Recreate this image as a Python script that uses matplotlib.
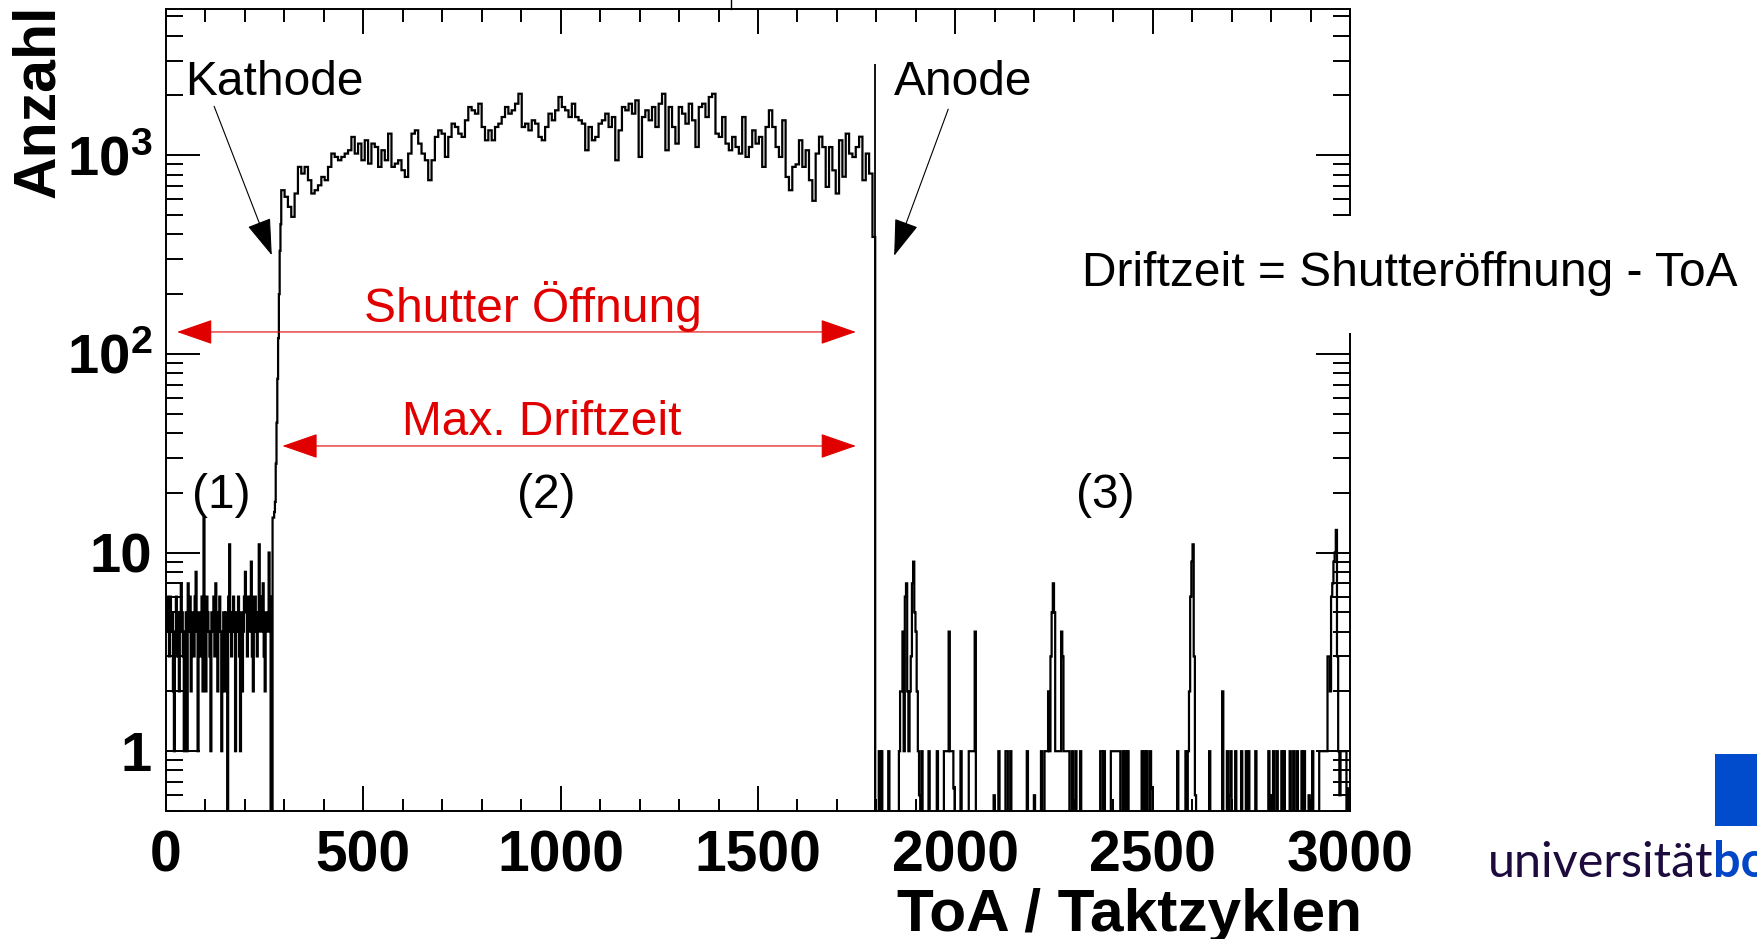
import numpy as np
import matplotlib
matplotlib.use("Agg")
import matplotlib.pyplot as plt
from matplotlib.patches import Rectangle
from matplotlib.lines import Line2D
from matplotlib.ticker import (MultipleLocator, LogLocator, FixedLocator,
                               FixedFormatter, NullFormatter)

plt.rcParams['font.family'] = ['Liberation Sans', 'DejaVu Sans']
plt.rcParams['font.weight'] = 'bold'
plt.rcParams['mathtext.fontset'] = 'custom'
plt.rcParams['mathtext.rm'] = 'Liberation Sans'
plt.rcParams['mathtext.bf'] = 'Liberation Sans:bold'

# region (1): noise before the cathode edge, 2.5 cycle bins from 0 to 270
noise_width = 2.5
noise_counts = [4, 6, 5, 3, 6, 4, 5, 2, 1, 4,
                6, 3, 5, 2, 4, 7, 5, 3, 1, 4,
                5, 1, 7, 4, 6, 2, 4, 5, 3, 6,
                8, 4, 1, 5, 4, 3, 6, 2, 15, 5,
                2, 6, 5, 4, 3, 1, 5, 4, 6, 3,
                7, 4, 2, 5, 6, 4, 1, 3, 5, 2,
                5, 4, 0, 6, 11, 4, 3, 5, 6, 4,
                1, 5, 4, 6, 3, 1, 5, 2, 4, 6,
                8, 5, 3, 6, 5, 4, 9, 3, 2, 6,
                6, 4, 3, 5, 11, 4, 4, 6, 7, 3,
                2, 5, 5, 4, 10, 6, 0, 0]
# cathode edge, 2 cycle bins from 270 to 292
rise_start = 270
rise_width = 2
rise_counts = [15, 15, 16, 18, 28, 45, 75, 120, 200, 330, 450]
body_start, body_end = 292, 1790
body_counts = [
    667, 618, 550, 490, 642, 874, 809, 874, 749, 642,
    667, 706, 778, 749, 874, 1020, 981, 944, 981, 1020,
    1060, 1237, 1020, 1145, 944, 1190, 908, 1145, 1101, 874,
    1060, 944, 1285, 874, 908, 944, 841, 778, 1020, 1285,
    1335, 1145, 1020, 944, 749, 944, 1237, 1335, 1285, 981,
    1237, 1443, 1388, 1285, 1237, 1500, 1750, 1684, 1620, 1818,
    1388, 1190, 1335, 1190, 1388, 1443, 1558, 1750, 1620, 1684,
    1818, 2040, 1388, 1443, 1335, 1500, 1443, 1237, 1190, 1388,
    1620, 1500, 1684, 1965, 1750, 1684, 1558, 1818, 1558, 1500,
    1443, 1060, 1388, 1190, 1237, 1443, 1500, 1620, 1388, 1558,
    944, 1335, 1750, 1684, 1818, 1620, 1890, 981, 1558, 1684,
    1500, 1750, 1388, 1818, 2040, 1060, 1750, 1388, 1145, 1750,
    1620, 1443, 1818, 1500, 1101, 1750, 1818, 1558, 1965, 2040,
    1285, 1237, 1558, 1145, 1060, 1237, 1101, 1020, 1558, 981,
    1101, 1335, 1145, 1237, 874, 1388, 1684, 1388, 1101, 981,
    1500, 778,
    667, 874, 900, 1190, 874, 1060, 749, 590, 1020, 1240,
    1100, 693, 1100, 840, 642, 1190, 780, 1285, 1020, 980,
    1100, 1240, 749, 1020, 809]
last_count = 388
anode_toa = 1797
anode_top = 2870
# region (3): sparse tail after the anode, 3 cycle bins up to 3000
tail_width = 3
tail_end = 3000
tail_toa = [1808, 1813, 1830, 1857, 1860, 1863, 1866, 1869, 1872, 1875,
            1878, 1881, 1884, 1887, 1890, 1893, 1896, 1899, 1902, 1905,
            1908, 1916, 1933, 1954, 1971, 1974, 1977, 1980, 1983, 1986,
            1989, 1992, 1995, 2013, 2034, 2037, 2040, 2043, 2046, 2049,
            2098, 2109, 2127, 2131, 2140, 2183, 2200, 2219, 2228, 2231,
            2234, 2237, 2240, 2243, 2246, 2249, 2252, 2255, 2258, 2261,
            2264, 2267, 2270, 2273, 2276, 2279, 2282, 2285, 2288, 2297,
            2306, 2318, 2369, 2372, 2377, 2394, 2397, 2400, 2403, 2406,
            2409, 2412, 2415, 2424, 2430, 2436, 2474, 2478, 2484, 2495,
            2498, 2563, 2584, 2589, 2592, 2595, 2598, 2601, 2604, 2607,
            2645, 2676, 2690, 2694, 2698, 2711, 2724, 2737, 2743, 2760,
            2794, 2800, 2805, 2815, 2826, 2834, 2847, 2856, 2866, 2877,
            2885, 2897, 2904, 2923, 2926, 2929, 2932, 2935, 2938, 2941,
            2944, 2947, 2950, 2953, 2956, 2959, 2962, 2965, 2968, 2971,
            2974, 2977, 2980, 2983, 2986, 2989, 2995]
tail_counts = [1, 1, 1, 1, 2, 2, 4, 1, 6, 7,
               2, 1, 2, 3, 7, 9, 5, 4, 2, 1,
               0.6, 1, 1, 1, 1, 1, 1, 1, 4, 1,
               1, 1, 0.65, 1, 1, 1, 1, 1, 1, 4,
               0.6, 1, 1, 1, 1, 1, 0.6, 1, 1, 1,
               1, 2, 1, 3, 5, 7, 5, 1, 1, 1,
               1, 1, 4, 3, 1, 1, 1, 1, 1, 1,
               1, 1, 1, 1, 1, 1, 1, 1, 1, 1,
               1, 1, 1, 1, 1, 1, 1, 1, 1, 1,
               0.65, 1, 1, 1, 2, 6, 9, 11, 3, 0.6,
               1, 2, 1, 0.6, 1, 1, 1, 1, 1, 1,
               1, 0.6, 1, 1, 1, 1, 1, 1, 1, 1,
               1, 0.6, 1, 1, 1, 1, 1, 1, 1, 1,
               3, 3, 2, 6, 7, 9, 10, 13, 3, 1,
               0.6, 1, 1, 1, 1, 1, 0.65]

RED = '#e00000'

# assemble one step histogram out of the pieces
noise_edges = np.arange(len(noise_counts) + 1) * noise_width
rise_edges = rise_start + np.arange(1, len(rise_counts) + 1) * rise_width
body_edges = np.linspace(body_start, body_end, len(body_counts) + 1)[1:]
n_tail = (tail_end - anode_toa) // tail_width
tail_edges = anode_toa + np.arange(1, n_tail + 1) * tail_width
tail_hist = np.zeros(n_tail)
for t, c in zip(tail_toa, tail_counts):
    tail_hist[(t - anode_toa) // tail_width] = c

edges = np.concatenate([noise_edges, rise_edges, body_edges, [anode_toa], tail_edges])
counts = np.concatenate([noise_counts, rise_counts, body_counts, [last_count], tail_hist])
counts = np.where(counts > 0, counts, 1e-2)

W, H = 1758, 939
fig = plt.figure(figsize=(W / 100, H / 100), dpi=100)
ax = fig.add_axes([166 / W, 1 - 811 / H, 1184 / W, 802 / H])

ax.stairs(counts, edges, baseline=None, color='black', lw=1.6, zorder=3)
ax.vlines(anode_toa, 1e-2, anode_top, color='black', lw=1.3, zorder=3)

ax.set_yscale('log')
ax.set_xlim(0, 3000)
ax.set_ylim(0.5, 5450)
ax.xaxis.set_major_locator(MultipleLocator(500))
ax.xaxis.set_minor_locator(MultipleLocator(100))
ax.yaxis.set_major_locator(FixedLocator([1, 10, 100, 1000]))
ax.yaxis.set_major_formatter(FixedFormatter(['1', '10', r'$\mathbf{10^{2}}$', r'$\mathbf{10^{3}}$']))
ax.yaxis.set_minor_locator(LogLocator(base=10, subs=np.arange(2, 10), numticks=20))
ax.yaxis.set_minor_formatter(NullFormatter())
ax.tick_params(which='both', direction='in', top=True, right=True, width=1.4)
ax.tick_params(axis='x', which='major', length=18, labelsize=41, pad=13)
ax.tick_params(axis='x', which='minor', length=9)
ax.tick_params(axis='y', which='major', length=24.5, labelsize=40.5, pad=10)
ax.tick_params(axis='y', which='minor', length=12)
for s in ax.spines.values():
    s.set_linewidth(1.4)

# annotations
fs = 34.5
ax.text(48, 2004, 'Kathode', fontsize=fs, fontweight='normal', ha='left', va='baseline')
ax.text(1845, 2004, 'Anode', fontsize=fs, fontweight='normal', ha='left', va='baseline')
black_head = dict(arrowstyle='-|>,head_length=1.17,head_width=0.39', color='black',
                  lw=0.8, shrinkA=0, shrinkB=0, mutation_scale=20)
ax.annotate('', xy=(268, 314), xytext=(122, 1764), arrowprops=black_head)
ax.annotate('', xy=(1845, 312), xytext=(1982, 1706), arrowprops=black_head)

red_head = dict(arrowstyle='<|-|>,head_length=1.15,head_width=0.4', color=RED,
                lw=0.8, shrinkA=0, shrinkB=0, mutation_scale=20)
ax.annotate('', xy=(28, 129), xytext=(1748, 129), arrowprops=red_head)
ax.annotate('', xy=(295, 34.4), xytext=(1748, 34.4), arrowprops=red_head)
ax.text(930, 144.5, 'Shutter Öffnung', fontsize=fs, fontweight='normal', color=RED,
        ha='center', va='baseline')
ax.text(953, 39.1, 'Max. Driftzeit', fontsize=fs, fontweight='normal', color=RED,
        ha='center', va='baseline')
for xpos, lab in [(139, '(1)'), (963, '(2)'), (2379, '(3)')]:
    ax.text(xpos, 16.8, lab, fontsize=fs, fontweight='normal', ha='center', va='baseline')

# white pave over the right frame with the formula
fig.add_artist(Rectangle((1068 / W, 1 - 333 / H), 1 - 1068 / W, 117 / H,
                         transform=fig.transFigure, facecolor='white',
                         edgecolor='none', zorder=2))
fig.text(1082 / W, 1 - 286 / H, 'Driftzeit = Shutteröffnung - ToA', fontsize=fs,
         fontweight='normal', ha='left', va='baseline', zorder=3)

# axis titles
fig.text(11 / W, 1 - 5 / H, 'Anzahl', fontsize=42.5, fontweight='bold', rotation=90,
         ha='left', va='top')
fig.text(1362 / W, 1 - 931 / H, 'ToA / Taktzyklen', fontsize=43.5, fontweight='bold',
         ha='right', va='baseline')

# edge of the title pave above the frame
fig.add_artist(Line2D([731 / W, 731 / W], [1, 1 - 9 / H], color='black', lw=1.0,
                      transform=fig.transFigure))

# university logo, cut at the right border
fig.add_artist(Rectangle((1715 / W, 1 - 826 / H), 80 / W, 72 / H,
                         transform=fig.transFigure, facecolor='#004ccc',
                         edgecolor='none', zorder=2))
fig.text(1713 / W, 1 - 877 / H, 'universität', fontsize=35, fontweight='normal',
         family=['Lato', 'DejaVu Sans'], color='#1d0b3d', ha='right', va='baseline')
fig.text(1713 / W, 1 - 877 / H, 'bonn', fontsize=35, fontweight='bold',
         family=['Lato', 'DejaVu Sans'], color='#0046c6', ha='left', va='baseline')

fig.savefig('out.png', dpi=100)
